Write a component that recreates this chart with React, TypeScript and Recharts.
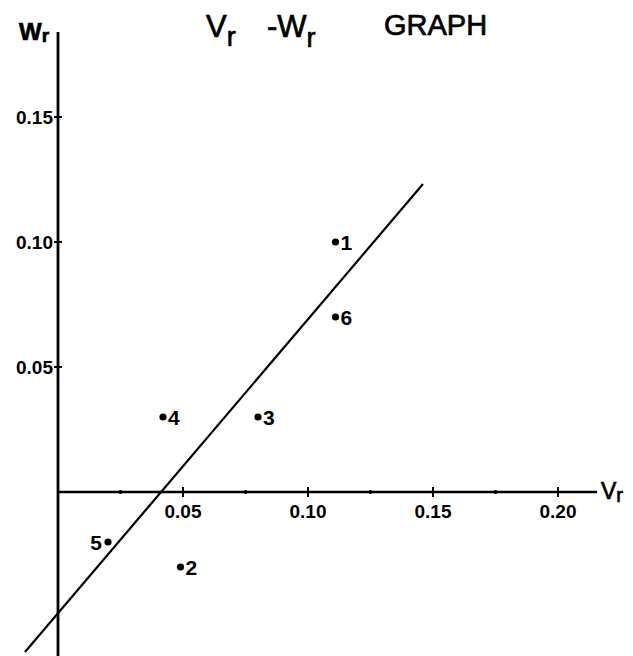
import React from "react";
import {
  ScatterChart,
  Scatter,
  XAxis,
  YAxis,
  ReferenceLine,
} from "recharts";

// measured points (Vr, Wr), numbered as on the sheet
const pointNames = ["1", "2", "3", "4", "5", "6"];
const vrValues = [0.111, 0.049, 0.08, 0.042, 0.02, 0.111];
const wrValues = [0.1, -0.03, 0.03, 0.03, -0.02, 0.07];

// hand-drawn fitted line, two end points
const fitVr = [-0.0132, 0.146];
const fitWr = [-0.064, 0.1232];

const xTicks = [0.05, 0.1, 0.15, 0.2];
const xTickLabels = ["0.05", "0.10", "0.15", "0.20"];
const xMinorTicks = [0.025, 0.075, 0.125, 0.175];
const yTicks = [0.05, 0.1, 0.15];
const yTickLabels = ["0.05", "0.10", "0.15"];

const X_DOMAIN: [number, number] = [-0.0232, 0.23];
const Y_DOMAIN: [number, number] = [-0.0656, 0.1968];
const X_AXIS_END = 0.2156;
const Y_AXIS_TOP = 0.184;

const FONT = "'Liberation Sans', Arial, sans-serif";

const points = pointNames.map((name, i) => ({
  name,
  vr: vrValues[i],
  wr: wrValues[i],
}));
const xTickData = xTicks.map((v, i) => ({ vr: v, wr: 0, label: xTickLabels[i] }));
const xMinorData = xMinorTicks.map((v) => ({ vr: v, wr: 0 }));
const yTickData = yTicks.map((v, i) => ({ vr: 0, wr: v, label: yTickLabels[i] }));

const PointShape = (props: any) => {
  const { cx, cy, payload } = props;
  const left = payload.name === "5";
  return (
    <g>
      <circle cx={cx} cy={cy} r={3.6} fill="#000" />
      <text
        x={left ? cx - 6 : cx + 5}
        y={cy}
        dy="0.36em"
        textAnchor={left ? "end" : "start"}
        fontFamily={FONT}
        fontWeight="bold"
        fontSize={21}
        fill="#000"
      >
        {payload.name}
      </text>
    </g>
  );
};

const XTickShape = (props: any) => {
  const { cx, cy, payload } = props;
  return (
    <g>
      <line x1={cx} x2={cx} y1={cy - 5} y2={cy + 5} stroke="#000" strokeWidth={2} />
      <text
        x={cx}
        y={cy + 26}
        textAnchor="middle"
        fontFamily={FONT}
        fontWeight="bold"
        fontSize={19}
        fill="#000"
      >
        {payload.label}
      </text>
    </g>
  );
};

const MinorTickShape = (props: any) => {
  const { cx, cy } = props;
  return <circle cx={cx} cy={cy} r={2} fill="#000" />;
};

const YTickShape = (props: any) => {
  const { cx, cy, payload } = props;
  return (
    <g>
      <line x1={cx - 4} x2={cx + 4} y1={cy} y2={cy} stroke="#000" strokeWidth={2} />
      <text
        x={cx - 5}
        y={cy}
        dy="0.36em"
        textAnchor="end"
        fontFamily={FONT}
        fontWeight="bold"
        fontSize={19}
        fill="#000"
      >
        {payload.label}
      </text>
    </g>
  );
};

export default function App() {
  return (
    <div
      style={{
        position: "absolute",
        left: 0,
        top: 0,
        width: 633,
        height: 656,
        background: "#fff",
        overflow: "hidden",
      }}
    >
      <ScatterChart
        width={633}
        height={656}
        margin={{ top: 0, right: 0, bottom: 0, left: 0 }}
      >
        <XAxis type="number" dataKey="vr" domain={X_DOMAIN} hide allowDataOverflow />
        <YAxis type="number" dataKey="wr" domain={Y_DOMAIN} hide allowDataOverflow />

        {/* axes drawn through the origin */}
        <ReferenceLine
          segment={[
            { x: 0, y: Y_DOMAIN[0] },
            { x: 0, y: Y_AXIS_TOP },
          ]}
          stroke="#000"
          strokeWidth={2.8}
        />
        <ReferenceLine
          segment={[
            { x: 0, y: 0 },
            { x: X_AXIS_END, y: 0 },
          ]}
          stroke="#000"
          strokeWidth={2.4}
        />

        {/* fitted line */}
        <ReferenceLine
          segment={[
            { x: fitVr[0], y: fitWr[0] },
            { x: fitVr[1], y: fitWr[1] },
          ]}
          stroke="#000"
          strokeWidth={2.2}
        />

        <Scatter data={xMinorData} shape={MinorTickShape} isAnimationActive={false} />
        <Scatter data={xTickData} shape={XTickShape} isAnimationActive={false} />
        <Scatter data={yTickData} shape={YTickShape} isAnimationActive={false} />
        <Scatter data={points} shape={PointShape} isAnimationActive={false} />
      </ScatterChart>

      <svg
        width={633}
        height={656}
        style={{ position: "absolute", left: 0, top: 0, pointerEvents: "none" }}
      >
        <g fontFamily={FONT} fill="#000" stroke="#000" strokeWidth={0.7}>
          {/* title */}
          <text x={206} y={37} fontSize={31}>
            V<tspan fontSize={27} dy={9}>r</tspan>
          </text>
          <text x={267} y={37} fontSize={31}>
            -W<tspan fontSize={27} dy={10}>r</tspan>
          </text>
          <text x={384} y={35} fontSize={29}>
            GRAPH
          </text>
          {/* axis names */}
          <text x={19} y={40} fontSize={24} fontWeight="bold">
            W<tspan fontSize={19} dy={2}>r</tspan>
          </text>
          <text x={601} y={499} fontSize={23}>
            V<tspan fontSize={20} dy={3}>r</tspan>
          </text>
        </g>
      </svg>
    </div>
  );
}
